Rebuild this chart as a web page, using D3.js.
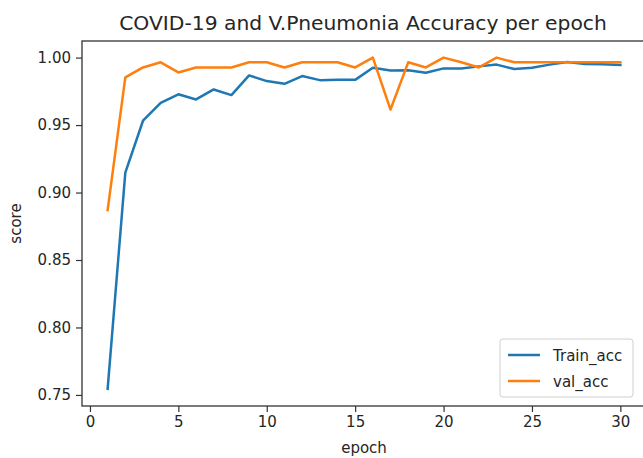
<!DOCTYPE html>
<html>
<head>
<meta charset="utf-8">
<script src="https://cdn.jsdelivr.net/npm/d3@7"></script>
<style>
  html, body { margin: 0; padding: 0; background: #fff; }
  svg { display: block; font-family: "DejaVu Sans", sans-serif; }
</style>
</head>
<body>
<svg id="chart" width="643" height="458"></svg>
<script>
// Accuracy per training epoch
const epochs = d3.range(1, 31);
const trainAcc = [0.7545, 0.9147, 0.9532, 0.9665, 0.9728, 0.9690, 0.9764, 0.9722, 0.9868, 0.9826,
                  0.9806, 0.9863, 0.9833, 0.9835, 0.9835, 0.9925, 0.9905, 0.9907, 0.9888, 0.9920,
                  0.9920, 0.9935, 0.9948, 0.9915, 0.9925, 0.9948, 0.9968, 0.9952, 0.9950, 0.9945];
const valAcc   = [0.8870, 0.9853, 0.9927, 0.9965, 0.9890, 0.9927, 0.9927, 0.9927, 0.9965, 0.9965,
                  0.9927, 0.9965, 0.9965, 0.9965, 0.9927, 1.0000, 0.9615, 0.9965, 0.9927, 1.0000,
                  0.9965, 0.9927, 1.0000, 0.9965, 0.9965, 0.9965, 0.9965, 0.9965, 0.9965, 0.9965];
const seriesNames = ["Train_acc", "val_acc"];
const seriesColors = ["#1f77b4", "#ff7f0e"];
const xTicks = [0, 5, 10, 15, 20, 25, 30];
const yTicks = [0.75, 0.80, 0.85, 0.90, 0.95, 1.00];

const svg = d3.select("#chart");
const frame = { left: 82, right: 646, top: 41, bottom: 406 };

const x = d3.scaleLinear().domain([-0.45, 31.45]).range([frame.left, frame.right]);
const y = d3.scaleLinear().domain([0.7418, 1.0123]).range([frame.bottom, frame.top]);

const textColor = "#262626";
const axisColor = "#333";

// axes
const xAxis = svg.append("g")
  .attr("transform", `translate(0,${frame.bottom})`)
  .call(d3.axisBottom(x).tickValues(xTicks).tickFormat(d3.format("d")).tickSize(6).tickPadding(4));
const yAxis = svg.append("g")
  .attr("transform", `translate(${frame.left},0)`)
  .call(d3.axisLeft(y).tickValues(yTicks).tickFormat(d3.format(".2f")).tickSize(6).tickPadding(5));

[xAxis, yAxis].forEach(g => {
  g.select(".domain").remove();
  g.selectAll(".tick line").attr("stroke", axisColor).attr("stroke-width", 1.2);
  g.selectAll(".tick text").attr("fill", textColor).style("font-size", "15px")
    .style("font-family", "DejaVu Sans, sans-serif");
});

// frame spines
svg.append("rect")
  .attr("x", frame.left).attr("y", frame.top)
  .attr("width", frame.right - frame.left).attr("height", frame.bottom - frame.top)
  .attr("fill", "none").attr("stroke", axisColor).attr("stroke-width", 1.3);

// lines
const line = d3.line().x((d, i) => x(epochs[i])).y(d => y(d));
[trainAcc, valAcc].forEach((s, k) => {
  svg.append("path").datum(s)
    .attr("d", line)
    .attr("fill", "none")
    .attr("stroke", seriesColors[k])
    .attr("stroke-width", 2.5)
    .attr("stroke-linejoin", "round")
    .attr("stroke-linecap", "square");
});

// title and axis labels
svg.append("text").attr("x", 363).attr("y", 30).attr("text-anchor", "middle")
  .attr("fill", textColor).style("font-size", "20.3px").text("COVID-19 and V.Pneumonia Accuracy per epoch");
svg.append("text").attr("x", (frame.left + frame.right) / 2).attr("y", 453).attr("text-anchor", "middle")
  .attr("fill", textColor).style("font-size", "15px").text("epoch");
svg.append("text").attr("transform", `translate(21,${(frame.top + frame.bottom) / 2}) rotate(-90)`)
  .attr("text-anchor", "middle").attr("fill", textColor).style("font-size", "15px").text("score");

// legend
const lg = svg.append("g").attr("transform", "translate(500,339)");
lg.append("rect").attr("x", 0).attr("y", 0).attr("width", 133).attr("height", 58).attr("rx", 3)
  .attr("fill", "#fff").attr("fill-opacity", 0.8).attr("stroke", "#d0d0d0").attr("stroke-width", 1);
seriesNames.forEach((name, i) => {
  const cy = 16 + i * 26;
  lg.append("line").attr("x1", 8).attr("x2", 40).attr("y1", cy).attr("y2", cy)
    .attr("stroke", seriesColors[i]).attr("stroke-width", 2.5);
  lg.append("text").attr("x", 53).attr("y", cy + 5.5).attr("fill", textColor)
    .style("font-size", "15px").text(name);
});
</script>
</body>
</html>
